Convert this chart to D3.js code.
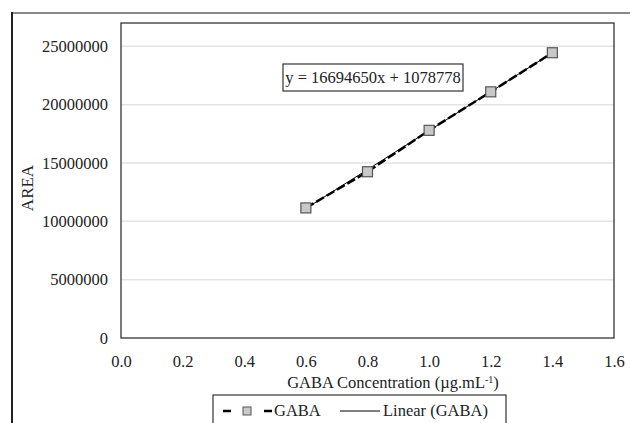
<!DOCTYPE html>
<html><head><meta charset="utf-8">
<script src="https://cdn.jsdelivr.net/npm/d3@7"></script>
<style>body{margin:0;background:#fff}svg{display:block}text{font-family:"Liberation Serif","Times New Roman",serif;fill:#222}</style>
</head><body><svg id="c" width="630" height="423"></svg>
<script>
const concentrations = [0.6, 0.8, 1.0, 1.2, 1.4];
const areas = [11150000, 14250000, 17800000, 21100000, 24450000];
const trendSlope = 16694650;
const trendIntercept = 1078778;
const xTicks = [0, 0.2, 0.4, 0.6, 0.8, 1.0, 1.2, 1.4, 1.6];
const yTicks = [0, 5000000, 10000000, 15000000, 20000000, 25000000];
const seriesName = "GABA";
const trendName = "Linear (GABA)";
const equationText = "y = 16694650x + 1078778";

const FS = "16.5px";
const svg = d3.select("#c");
const L = 121, R = 614, T = 23, B = 338;
const x = d3.scaleLinear().domain([0, 1.6]).range([L, R]);
const y = d3.scaleLinear().domain([0, 27000000]).range([B, T]);

// outer frame
svg.append("line").attr("x1", 11).attr("x2", 630).attr("y1", 13).attr("y2", 13).attr("stroke", "#8a8a8a").attr("stroke-width", 2);
svg.append("line").attr("x1", 12).attr("x2", 12).attr("y1", 12).attr("y2", 423).attr("stroke", "#222").attr("stroke-width", 2);

// gridlines
svg.append("g").selectAll("line").data(yTicks.filter(d => d > 0)).join("line")
  .attr("x1", L).attr("x2", R).attr("y1", d => y(d)).attr("y2", d => y(d))
  .attr("stroke", "#e3e3e3").attr("stroke-width", 1.5);

// plot border
svg.append("rect").attr("x", L).attr("y", T).attr("width", R - L).attr("height", B - T)
  .attr("fill", "none").attr("stroke", "#333").attr("stroke-width", 1.3);

// y axis labels
const yAxis = d3.axisLeft(y).tickValues(yTicks).tickSize(0).tickPadding(13).tickFormat(d3.format("d"));
const gy = svg.append("g").attr("transform", `translate(${L},0)`).call(yAxis);
gy.select(".domain").remove();
gy.selectAll("text").style("font-family", '"Liberation Serif",serif').style("font-size", FS).attr("fill", "#222");

// x axis labels
const xAxis = d3.axisBottom(x).tickValues(xTicks).tickSize(0).tickPadding(17).tickFormat(d3.format(".1f"));
const gx = svg.append("g").attr("transform", `translate(0,${B})`).call(xAxis);
gx.select(".domain").remove();
gx.selectAll("text").style("font-family", '"Liberation Serif",serif').style("font-size", FS).attr("fill", "#222");

// axis titles
svg.append("text").attr("transform", "translate(33,188) rotate(-90)").attr("text-anchor", "middle")
  .style("font-size", "17px").text("AREA");
const xt = svg.append("text").attr("x", 393).attr("y", 388).attr("text-anchor", "middle").style("font-size", FS);
xt.append("tspan").text("GABA Concentration (µg.mL");
xt.append("tspan").attr("dy", -5).style("font-size", "10px").text("-1");
xt.append("tspan").attr("dy", 5).text(")");

// trendline
const xs = d3.extent(concentrations);
svg.append("line").attr("x1", x(xs[0])).attr("x2", x(xs[1]))
  .attr("y1", y(trendSlope * xs[0] + trendIntercept)).attr("y2", y(trendSlope * xs[1] + trendIntercept))
  .attr("stroke", "#000").attr("stroke-width", 1);

// series line
const line = d3.line().x((d, i) => x(concentrations[i])).y(d => y(d));
svg.append("path").datum(areas).attr("d", line).attr("fill", "none")
  .attr("stroke", "#000").attr("stroke-width", 2.5).attr("stroke-dasharray", "9,3");

// markers
svg.append("g").selectAll("rect").data(areas).join("rect")
  .attr("x", (d, i) => x(concentrations[i]) - 5).attr("y", d => y(d) - 5)
  .attr("width", 10).attr("height", 10).attr("fill", "#c8c8c8").attr("stroke", "#555").attr("stroke-width", 1.2);

// equation box
svg.append("rect").attr("x", 283).attr("y", 64).attr("width", 180).attr("height", 27)
  .attr("fill", "#fff").attr("stroke", "#333").attr("stroke-width", 1.2);
svg.append("text").attr("x", 373).attr("y", 83).attr("text-anchor", "middle").style("font-size", FS).text(equationText);

// legend
const lg = svg.append("g");
lg.append("rect").attr("x", 213).attr("y", 395).attr("width", 293).attr("height", 32)
  .attr("fill", "#fff").attr("stroke", "#333").attr("stroke-width", 1.2);
const ly = 411;
lg.append("line").attr("x1", 223).attr("x2", 231).attr("y1", ly).attr("y2", ly).attr("stroke", "#000").attr("stroke-width", 2.5);
lg.append("line").attr("x1", 264).attr("x2", 272).attr("y1", ly).attr("y2", ly).attr("stroke", "#000").attr("stroke-width", 2.5);
lg.append("rect").attr("x", 243).attr("y", ly - 4).attr("width", 8).attr("height", 8)
  .attr("fill", "#c8c8c8").attr("stroke", "#555").attr("stroke-width", 1);
lg.append("text").attr("x", 274).attr("y", ly + 5).style("font-size", FS).text(seriesName);
lg.append("line").attr("x1", 340).attr("x2", 380).attr("y1", ly).attr("y2", ly).attr("stroke", "#000").attr("stroke-width", 1);
lg.append("text").attr("x", 383).attr("y", ly + 5).style("font-size", FS).text(trendName);
</script></body></html>
